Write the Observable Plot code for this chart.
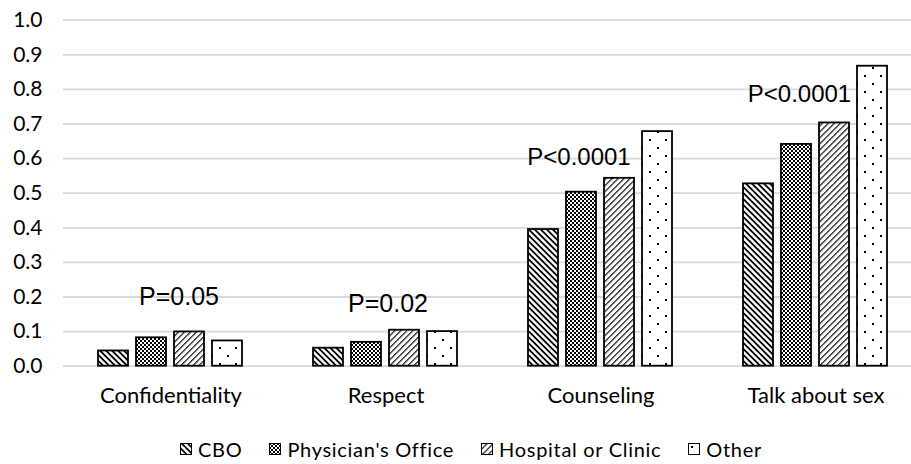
<!DOCTYPE html>
<html><head><meta charset="utf-8">
<script src="https://cdn.jsdelivr.net/npm/d3@7"></script>
<script src="https://cdn.jsdelivr.net/npm/@observablehq/plot@0.6"></script>
<style>
html,body{margin:0;padding:0;background:#fff;overflow:hidden;width:911px;height:464px;position:relative}
#chart{position:absolute;left:0;top:0}
#legend{position:absolute;left:180px;top:449px;transform:translateY(-50%);display:flex;align-items:center;font-family:Lato,sans-serif;font-size:20px;letter-spacing:0.7px;color:#000;white-space:nowrap}
.item{display:flex;align-items:center;margin-right:27px}
.item svg{margin-right:6px;display:block}
</style></head><body>
<svg width="0" height="0" style="position:absolute">
<defs>
<pattern id="p0" width="4.24" height="4.24" patternUnits="userSpaceOnUse" patternTransform="rotate(-45)">
<rect width="4.24" height="4.24" fill="#fff"/><rect width="1.8" height="4.24" fill="#000"/></pattern>
<pattern id="p1" width="4" height="4" patternUnits="userSpaceOnUse">
<rect width="4" height="4" fill="#fff"/><rect width="2" height="2" fill="#000"/><rect x="2" y="2" width="2" height="2" fill="#000"/></pattern>
<pattern id="p2" width="4.24" height="4.24" patternUnits="userSpaceOnUse" patternTransform="rotate(45)">
<rect width="4.24" height="4.24" fill="#fff"/><rect width="1.1" height="4.24" fill="#000"/></pattern>
<pattern id="p3" width="16" height="16" patternUnits="userSpaceOnUse">
<rect width="16" height="16" fill="#fff"/><rect x="3" y="3" width="2" height="2" fill="#000"/><rect x="11" y="11" width="2" height="2" fill="#000"/></pattern>
</defs></svg>
<div id="chart"></div>
<div id="legend"></div>
<script>
const categories = ["Confidentiality", "Respect", "Counseling", "Talk about sex"];
const series = ["CBO", "Physician's Office", "Hospital or Clinic", "Other"];
const cbo       = [0.044, 0.052, 0.395, 0.527];
const physician = [0.082, 0.069, 0.503, 0.641];
const hospital  = [0.099, 0.104, 0.543, 0.703];
const other     = [0.073, 0.100, 0.678, 0.867];
const pLabels = ["P=0.05", "P=0.02", "P<0.0001", "P<0.0001"];
const pLabelY = [0.20, 0.18, 0.605, 0.786];
const yTicks = [0.0, 0.1, 0.2, 0.3, 0.4, 0.5, 0.6, 0.7, 0.8, 0.9, 1.0];

const fills = ["url(#p0)", "url(#p1)", "url(#p2)", "url(#p3)"];
const seriesValues = [cbo, physician, hospital, other];
const rows = [];
categories.forEach((c, i) => seriesValues.forEach((arr, j) =>
  rows.push({category: c, series: series[j], value: arr[i], fill: fills[j]})));
const labelDx = [8, 2, -22, -16.5];
const labelMarks = pLabels.map((t, i) =>
  Plot.text([{category: categories[i], y: pLabelY[i], label: t}], {
    fx: "category", y: "y", text: "label", dx: labelDx[i],
    fontFamily: "'Liberation Sans', Arial, sans-serif", fontSize: i < 2 ? 25 : 24, fill: "#000",
    textAnchor: "middle", lineAnchor: "middle"
  }));

const plot = Plot.plot({
  width: 911, height: 420,
  marginLeft: 63, marginRight: -12, marginTop: 19.7, marginBottom: 54.3,
  style: {fontFamily: "Lato, sans-serif", fontSize: "21px", color: "#000", background: "#fff", overflow: "hidden"},
  fx: {domain: categories, padding: 0, label: null, axis: "bottom", tickSize: 0, tickPadding: 21, fontSize: 22},
  x: {domain: series, paddingInner: 0.205, paddingOuter: 0.859, axis: null},
  y: {domain: [0, 1], ticks: yTicks, tickFormat: d3.format(".1f"), tickSize: 0, tickPadding: 21, label: null},
  color: {type: "identity"},
  marks: [
    Plot.ruleY(yTicks, {stroke: "#d9d9d9", strokeWidth: 1.8}),
    Plot.barY(rows, {fx: "category", x: "series", y: "value", fill: "fill", stroke: "#000", strokeWidth: 1.8}),
    ...labelMarks
  ]
});
plot.querySelectorAll("[aria-label='fx-axis tick label'] text").forEach(t => t.setAttribute("font-size", 22));
document.getElementById("chart").appendChild(plot);

const legend = document.getElementById("legend");
series.forEach((s, j) => {
  const item = document.createElement("div");
  item.className = "item";
  item.innerHTML = `<svg width="12" height="12"><rect x="0.5" y="0.5" width="11" height="11" fill="${fills[j]}" stroke="#000" stroke-width="1"/></svg><span>${s}</span>`;
  legend.appendChild(item);
});
</script>
</body></html>
